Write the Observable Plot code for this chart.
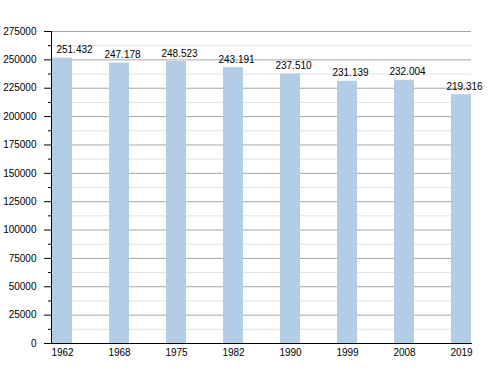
<!DOCTYPE html>
<html>
<head>
<meta charset="utf-8">
<script src="https://cdn.jsdelivr.net/npm/d3@7"></script>
<script src="https://cdn.jsdelivr.net/npm/@observablehq/plot@0.6"></script>
<style>
  html, body { margin: 0; padding: 0; background: #fff; }
</style>
</head>
<body>
<div id="chart"></div>
<script>
const years = ["1962", "1968", "1975", "1982", "1990", "1999", "2008", "2019"];
const population = [251432, 247178, 248523, 243191, 237510, 231139, 232004, 219316];
const majorTicks = [0, 25000, 50000, 75000, 100000, 125000, 150000, 175000, 200000, 225000, 250000, 275000];
const minorTicks = [12500, 37500, 62500, 87500, 112500, 137500, 162500, 187500, 212500, 237500, 262500];

const data = years.map((year, i) => ({year, pop: population[i]}));
const fmt = d3.formatLocale({thousands: ".", grouping: [3], decimal: ",", currency: ["", ""]}).format(",");

const chart = Plot.plot({
  width: 500,
  height: 373,
  marginLeft: 51,
  marginRight: 29,
  marginTop: 31,
  marginBottom: 30,
  style: {fontFamily: "'Liberation Sans', Arial, sans-serif", fontSize: "10px", background: "#fff", color: "#000"},
  x: {domain: years, paddingInner: 0.65, paddingOuter: 0, axis: null, label: null},
  y: {domain: [0, 275000], axis: null, label: null},
  marks: [
    Plot.ruleY(minorTicks, {stroke: "#e2e2e2", strokeWidth: 1}),
    Plot.ruleY(majorTicks.filter(d => d > 0), {stroke: "#a6a6a6", strokeWidth: 1}),
    Plot.barY(data, {x: "year", y: "pop", fill: "#b3cde6"}),
    Plot.axisY({ticks: minorTicks, tickSize: 3, tickFormat: () => "", label: null}),
    Plot.axisY({ticks: majorTicks, tickSize: 7, tickPadding: 8, tickFormat: d => String(d), fontSize: 10, label: null}),
    Plot.frame({anchor: "left", stroke: "#000"}),
    Plot.frame({anchor: "bottom", stroke: "#000"}),
    Plot.axisX({tickSize: 0, tickPadding: 5, fontSize: 10, label: null}),
    Plot.text(data.slice(0, 1), {x: "year", y: "pop", text: d => fmt(d.pop), dy: -5, dx: 12, lineAnchor: "bottom", fontSize: 10}),
    Plot.text(data.slice(1), {x: "year", y: "pop", text: d => fmt(d.pop), dy: -5, dx: 3, lineAnchor: "bottom", fontSize: 10})
  ]
});
document.getElementById("chart").appendChild(chart);
</script>
</body>
</html>
